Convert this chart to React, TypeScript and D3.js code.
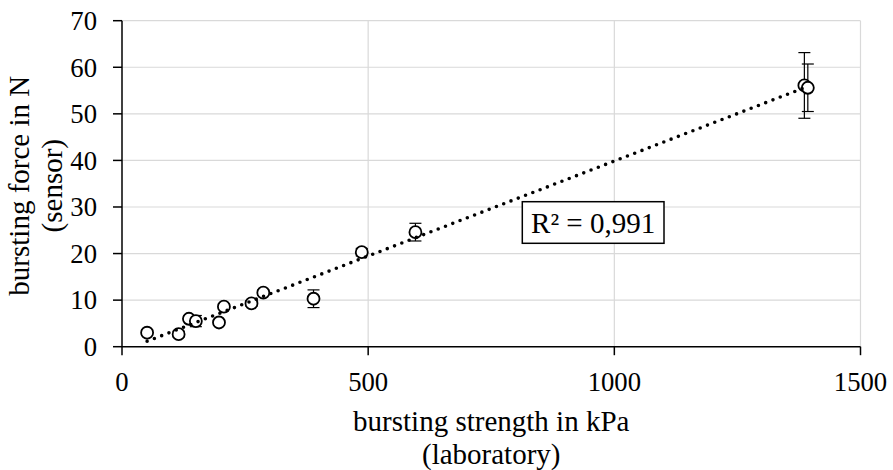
import React from "react";
import * as d3 from "d3";

// Data
const strengthKPa: number[] = [51, 115, 136, 150, 197, 207, 263, 287, 389, 487, 596, 1386, 1393];
const forceN: number[] = [3.0, 2.7, 6.0, 5.5, 5.2, 8.6, 9.3, 11.6, 10.3, 20.3, 24.6, 56.1, 55.6];
const forceErr: number[] = [0.6, 0.6, 0.6, 1.2, 0.6, 0.6, 0.6, 0.6, 1.9, 0.8, 1.9, 7.05, 5.1];
const xTicks: number[] = [0, 500, 1000, 1500];
const yTicks: number[] = [0, 10, 20, 30, 40, 50, 60, 70];
const rSquaredLabel = "R² = 0,991";
const xTitleLines: string[] = ["bursting strength in kPa", "(laboratory)"];
const yTitleLines: string[] = ["bursting force in N", "(sensor)"];

const W = 893;
const H = 470;
const tickStyle = { fontFamily: "Liberation Serif", fontSize: "26.7px" };
const titleStyle = { fontFamily: "Liberation Serif", fontSize: "29px" };

export default function App() {
  const x = d3.scaleLinear().domain([0, 1500]).range([122, 860.5]);
  const y = d3.scaleLinear().domain([0, 70]).range([346.7, 20.7]);
  const data = strengthKPa.map((v, i) => ({ x: v, y: forceN[i], e: forceErr[i] }));

  // linear trendline (least squares)
  const mx = d3.mean(strengthKPa) as number;
  const my = d3.mean(forceN) as number;
  let sxy = 0;
  let sxx = 0;
  strengthKPa.forEach((v, i) => {
    sxy += (v - mx) * (forceN[i] - my);
    sxx += (v - mx) * (v - mx);
  });
  const slope = sxy / sxx;
  const intercept = my - slope * mx;
  const ext = d3.extent(strengthKPa) as [number, number];
  const trend = d3
    .line<number>()
    .x((d) => x(d))
    .y((d) => y(intercept + slope * d))(ext) as string;

  const xc = (x(0) + x(1500)) / 2;
  const yc = (y(0) + y(70)) / 2;

  const bx = 522.3;
  const by = 201.7;
  const bw = 141.7;
  const bh = 41.6;

  return (
    <svg width={W} height={H} style={{ position: "absolute", left: 0, top: 0, background: "#fff" }}>
      {/* gridlines */}
      {yTicks
        .filter((t) => t > 0)
        .map((t) => (
          <line key={`hg${t}`} x1={x(0)} x2={x(1500)} y1={y(t)} y2={y(t)} stroke="#d9d9d9" strokeWidth={1.2} />
        ))}
      {xTicks
        .filter((t) => t > 0)
        .map((t) => (
          <line key={`vg${t}`} x1={x(t)} x2={x(t)} y1={y(0)} y2={y(70)} stroke="#d9d9d9" strokeWidth={1.2} />
        ))}

      {/* axes */}
      <line x1={x(0)} x2={x(0)} y1={y(70)} y2={y(0)} stroke="#000" strokeWidth={1.5} />
      <line x1={x(0)} x2={x(1500)} y1={y(0)} y2={y(0)} stroke="#000" strokeWidth={1.5} />

      {/* y ticks */}
      {yTicks.map((t) => (
        <line key={`ytl${t}`} x1={x(0) - 9} x2={x(0)} y1={y(t)} y2={y(t)} stroke="#000" strokeWidth={1.5} />
      ))}
      {yTicks.map((t) => (
        <text key={`ytt${t}`} x={97} y={y(t) + 9.3} textAnchor="end" style={tickStyle}>
          {t}
        </text>
      ))}

      {/* x ticks */}
      {xTicks.map((t) => (
        <line key={`xtl${t}`} x1={x(t)} x2={x(t)} y1={y(0)} y2={y(0) + 8.5} stroke="#000" strokeWidth={1.5} />
      ))}
      {xTicks.map((t) => (
        <text key={`xtt${t}`} x={x(t)} y={390.7} textAnchor="middle" style={tickStyle}>
          {t}
        </text>
      ))}

      {/* axis titles */}
      {xTitleLines.map((s, i) => (
        <text key={s} x={xc} y={430.5 + i * 33} textAnchor="middle" style={titleStyle}>
          {s}
        </text>
      ))}
      {yTitleLines.map((s, i) => (
        <text
          key={s}
          transform={`translate(${29 + i * 33},${yc + 2}) rotate(-90)`}
          textAnchor="middle"
          style={titleStyle}
        >
          {s}
        </text>
      ))}

      {/* error bars */}
      {data.map((d, i) => {
        const cx = x(d.x);
        const yt = y(d.y + d.e);
        const yb = y(d.y - d.e);
        return (
          <g key={`eb${i}`} stroke="#000" strokeWidth={1.2}>
            <line x1={cx} x2={cx} y1={yt} y2={yb} />
            <line x1={cx - 6} x2={cx + 6} y1={yt} y2={yt} />
            <line x1={cx - 6} x2={cx + 6} y1={yb} y2={yb} />
          </g>
        );
      })}

      {/* markers */}
      {data.map((d, i) => (
        <circle key={`m${i}`} cx={x(d.x)} cy={y(d.y)} r={6} fill="#fff" stroke="#000" strokeWidth={1.8} />
      ))}

      {/* trendline */}
      <path d={trend} fill="none" stroke="#000" strokeWidth={3.6} strokeLinecap="round" strokeDasharray="0 7.8" />

      {/* R² label */}
      <rect x={bx} y={by} width={bw} height={bh} fill="#fff" stroke="#000" strokeWidth={1.5} />
      <text x={bx + bw / 2} y={233.3} textAnchor="middle" style={titleStyle}>
        {rSquaredLabel}
      </text>
    </svg>
  );
}
